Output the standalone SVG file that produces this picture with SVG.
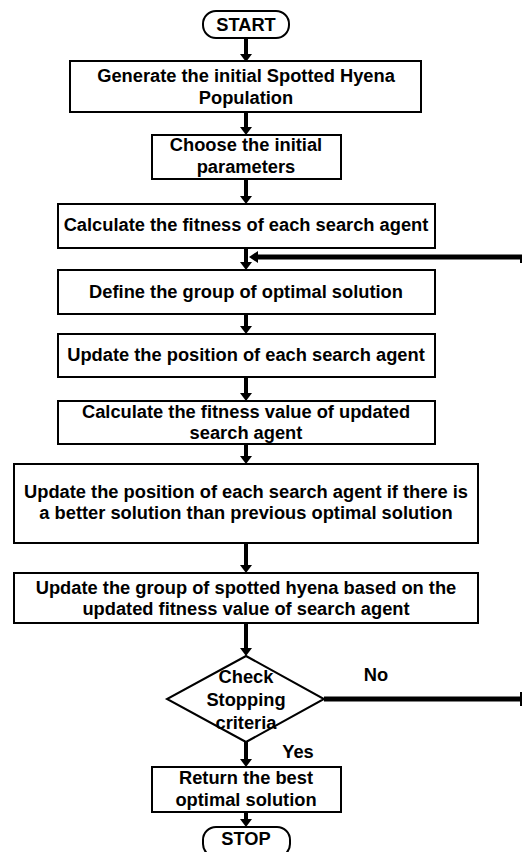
<svg xmlns="http://www.w3.org/2000/svg" width="522" height="852" viewBox="0 0 522 852">
<style>
.box{fill:#fff;stroke:#000;stroke-width:2}
.t{font-family:"Liberation Sans",Arial,sans-serif;font-weight:bold;font-size:18.3px;fill:#000;text-anchor:middle}
.sh{stroke:#000;stroke-width:4;fill:none}
.fb{stroke:#000;stroke-width:5;fill:none}
.hd{fill:#000}
</style>
<rect width="522" height="852" fill="#fff"/>
<g id="connectors">
<line class="sh" x1="246" y1="38" x2="246" y2="55"/><polygon class="hd" points="240,54 252,54 246,62"/>
<line class="sh" x1="246" y1="112" x2="246" y2="128"/><polygon class="hd" points="240,127 252,127 246,135"/>
<line class="sh" x1="246" y1="179" x2="246" y2="197"/><polygon class="hd" points="240,196 252,196 246,204"/>
<line class="sh" x1="246" y1="248" x2="246" y2="263"/><polygon class="hd" points="240,262 252,262 246,270"/>
<line class="sh" x1="246" y1="314" x2="246" y2="327"/><polygon class="hd" points="240,326 252,326 246,334"/>
<line class="sh" x1="246" y1="377" x2="246" y2="394"/><polygon class="hd" points="240,393 252,393 246,401"/>
<line class="sh" x1="246" y1="444" x2="246" y2="457"/><polygon class="hd" points="240,456 252,456 246,464"/>
<line class="sh" x1="246" y1="543" x2="246" y2="566"/><polygon class="hd" points="240,565 252,565 246,573"/>
<line class="sh" x1="246" y1="623" x2="246" y2="649"/><polygon class="hd" points="240,648 252,648 246,656"/>
<line class="sh" x1="246" y1="742" x2="246" y2="760"/><polygon class="hd" points="240,759 252,759 246,767"/>
<line class="sh" x1="246" y1="812" x2="246" y2="820"/><polygon class="hd" points="240,819 252,819 246,827"/>
<line class="fb" x1="324" y1="699" x2="522" y2="699"/>
<line stroke="#000" stroke-width="2" x1="521" y1="692" x2="521" y2="706"/>
<line class="fb" x1="257" y1="257" x2="522" y2="257"/>
<polygon class="hd" points="249,257 258,251 258,263"/>
<line stroke="#000" stroke-width="2" x1="521" y1="258" x2="521" y2="263"/>
</g>
<g id="start"><rect class="box" x="203" y="11" width="86" height="27" rx="13"/><text class="t" x="246" y="31">START</text></g>
<g id="generate"><rect class="box" x="70" y="61" width="351" height="51"/><text class="t" x="246" y="82">Generate the initial Spotted Hyena</text><text class="t" x="246" y="104">Population</text></g>
<g id="choose"><rect class="box" x="152" y="135" width="189" height="44"/><text class="t" x="246" y="151">Choose the initial</text><text class="t" x="246" y="173">parameters</text></g>
<g id="calcfit"><rect class="box" x="58" y="204" width="377" height="44"/><text class="t" x="246" y="231">Calculate the fitness of each search agent</text></g>
<g id="define"><rect class="box" x="58" y="270" width="377" height="44"/><text class="t" x="246" y="298">Define the group of optimal solution</text></g>
<g id="update"><rect class="box" x="58" y="334" width="377" height="43"/><text class="t" x="246" y="361">Update the position of each search agent</text></g>
<g id="calcupd"><rect class="box" x="58" y="401" width="377" height="43"/><text class="t" x="246" y="418">Calculate the fitness value of updated</text><text class="t" x="246" y="439">search agent</text></g>
<g id="updateif"><rect class="box" x="14" y="464" width="464" height="79"/><text class="t" x="246" y="498">Update the position of each search agent if there is</text><text class="t" x="246" y="519">a better solution than previous optimal solution</text></g>
<g id="updategroup"><rect class="box" x="14" y="573" width="464" height="50"/><text class="t" x="246" y="594">Update the group of spotted hyena based on the</text><text class="t" x="246" y="615">updated fitness value of search agent</text></g>
<g id="check"><polygon class="box" points="246,656 324,699 246,742 167,699"/><text class="t" x="246" y="683">Check</text><text class="t" x="246" y="706">Stopping</text><text class="t" x="246" y="729">criteria</text></g>
<g id="labels"><text class="t" x="376" y="681">No</text><text class="t" x="298" y="758">Yes</text></g>
<g id="return"><rect class="box" x="152" y="767" width="189" height="45"/><text class="t" x="246" y="784">Return the best</text><text class="t" x="246" y="806">optimal solution</text></g>
<g id="stop"><rect class="box" x="203" y="827" width="87" height="30" rx="13"/><text class="t" x="246" y="845">STOP</text></g>
</svg>
